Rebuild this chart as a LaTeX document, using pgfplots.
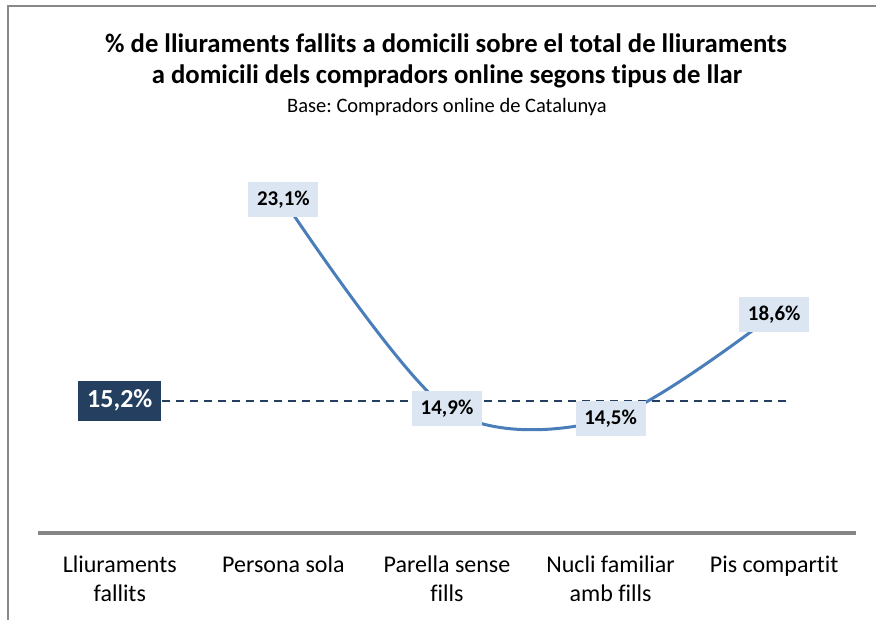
\documentclass[border=0pt]{standalone}
\usepackage{pgfplots}
\pgfplotsset{compat=1.18}
\usepackage{fontspec}
\setmainfont[Ligatures=NoCommon]{Carlito}
\frenchspacing
\definecolor{lineblue}{HTML}{4A7EBB}
\definecolor{lblfill}{HTML}{DCE6F2}
\definecolor{navy}{HTML}{243F60}
\definecolor{axgray}{HTML}{868686}
\definecolor{framegray}{HTML}{898989}
\begin{document}
\begin{tikzpicture}[x=1pt,y=1pt]
\useasboundingbox (0,0) rectangle (876,620);
\draw[framegray, line width=1.5pt] (8,0) -- (8,614) -- (876,614);
\node[anchor=base, font=\fontsize{26.7}{30}\selectfont\bfseries, inner sep=0pt] at (446,567) {\% de lliuraments fallits a domicili sobre el total de lliuraments};
\node[anchor=base, font=\fontsize{26.7}{30}\selectfont\bfseries, inner sep=0pt] at (447,536) {a domicili dels compradors online segons tipus de llar};
\node[anchor=base, font=\fontsize{20.5}{22}\selectfont, inner sep=0pt] at (447,507) {Base: Compradors online de Catalunya};
\begin{axis}[
  at={(38pt,87pt)}, anchor=south west,
  scale only axis, width=818pt, height=381.5pt,
  xmin=-0.5, xmax=4.5, ymin=10, ymax=25,
  clip=false,
  axis y line=none,
  axis x line=bottom,
  x axis line style={-, draw=axgray, line width=4pt},
  ytick=\empty,
  xtick={0,1,2,3,4},
  xticklabels={{Lliuraments\\fallits},{Persona sola},{Parella sense\\fills},{Nucli familiar\\amb fills},{Pis compartit}},
  major tick length=0pt,
  xticklabel style={align=center, font=\fontsize{24}{29.5}\selectfont, anchor=north, yshift=-19pt},
]
\addplot[navy, line width=1.8pt, dash pattern=on 8pt off 6pt] coordinates {(0,15.2) (4.1,15.2)};
\addplot[lineblue, line width=3pt, smooth, tension=0.5] coordinates {(1,23.1) (2,14.9) (3,14.5) (4,18.6)};
\addplot[draw=none, mark=none, nodes near coords, point meta=explicit symbolic,
  every node near coord/.style={anchor=center, fill=lblfill, text=black, font=\fontsize{21}{24}\selectfont\bfseries, minimum width=70pt, minimum height=35pt, inner sep=0pt}]
  coordinates {(1,23.1) [23,1\%] (2,14.9) [14,9\%] (3,14.5) [14,5\%] (4,18.6) [18,6\%]};
\addplot[draw=none, mark=none, nodes near coords, point meta=explicit symbolic,
  every node near coord/.style={anchor=center, fill=navy, text=white, font=\fontsize{26}{28}\selectfont\bfseries, minimum width=83pt, minimum height=40pt, inner sep=0pt}]
  coordinates {(0,15.2) [15,2\%]};
\end{axis}
\end{tikzpicture}
\end{document}
